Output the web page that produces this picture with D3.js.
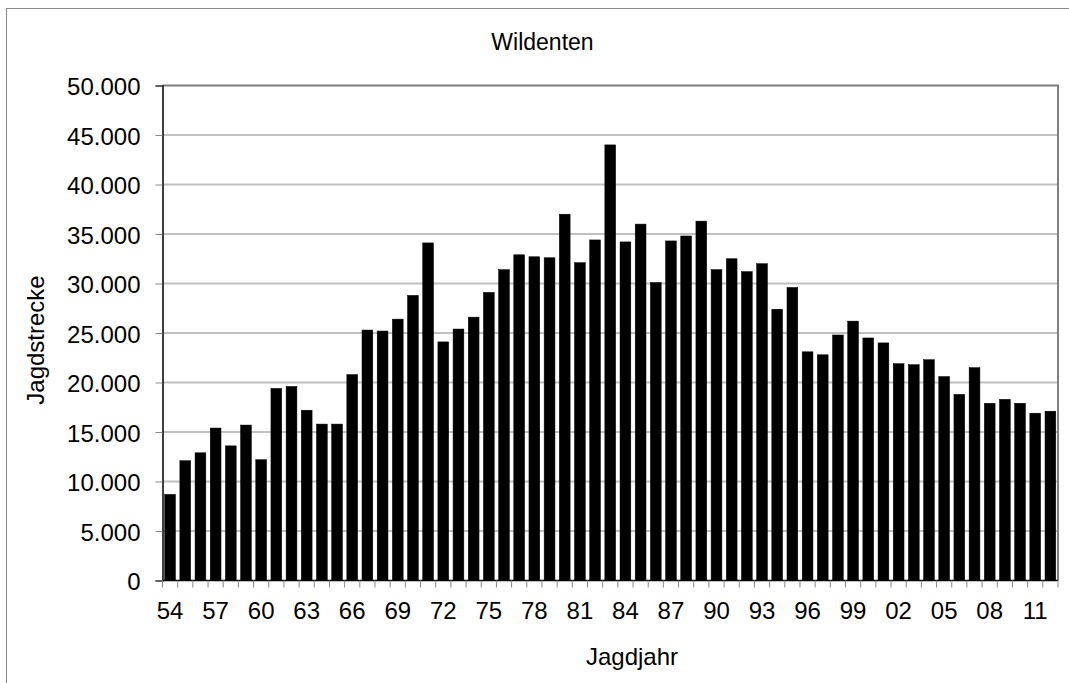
<!DOCTYPE html>
<html>
<head>
<meta charset="utf-8">
<script src="https://cdn.jsdelivr.net/npm/d3@7"></script>
<style>
  body { margin: 0; background: #fff; }
  svg { display: block; font-family: "Liberation Sans", Arial, sans-serif; }
</style>
</head>
<body>
<svg id="chart" width="1069" height="683"></svg>
<script>
// Jagdjahre 1954 - 2012
const years = ["54","55","56","57","58","59","60","61","62","63","64","65","66","67","68","69",
  "70","71","72","73","74","75","76","77","78","79","80","81","82","83","84","85","86","87","88","89",
  "90","91","92","93","94","95","96","97","98","99","00","01","02","03","04","05","06","07","08","09",
  "10","11","12"];

// Strecke Wildenten
const strecke = [8700, 12100, 12900, 15400, 13600, 15700, 12200, 19400, 19600, 17200, 15800, 15800,
  20800, 25300, 25200, 26400, 28800, 34100, 24100, 25400, 26600, 29100, 31400, 32900, 32700, 32600,
  37000, 32100, 34400, 44000, 34200, 36000, 30100, 34300, 34800, 36300, 31400, 32500, 31200, 32000,
  27400, 29600, 23100, 22800, 24800, 26200, 24500, 24000, 21900, 21800, 22300, 20600, 18800, 21500,
  17900, 18300, 17900, 16900, 17100];

// only every third year gets a label
const xLabels = ["54","57","60","63","66","69","72","75","78","81","84","87","90","93","96","99",
  "02","05","08","11"];

const yTicks = [0, 5000, 10000, 15000, 20000, 25000, 30000, 35000, 40000, 45000, 50000];

const svg = d3.select("#chart"),
    margin = {top: 85.5, right: 11, bottom: 102.5, left: 162.5},
    width = +svg.attr("width") - margin.left - margin.right,
    height = +svg.attr("height") - margin.top - margin.bottom;

const de = d3.formatLocale({decimal: ",", thousands: ".", grouping: [3], currency: ["", " €"]});
const fmt = de.format(",d");

// outer chart frame
svg.append("rect")
    .attr("x", 6.5).attr("y", 8.5)
    .attr("width", 1100).attr("height", 700)
    .attr("fill", "none")
    .attr("stroke", "#888")
    .attr("stroke-width", 1);

const g = svg.append("g").attr("transform", "translate(" + margin.left + "," + margin.top + ")");

const x = d3.scaleBand()
    .domain(years)
    .range([0, width])
    .paddingInner(0.29)
    .paddingOuter(0.145);

const y = d3.scaleLinear()
    .domain([0, 50000])
    .range([height, 0]);

// gridlines
g.append("g")
    .selectAll("line")
    .data(yTicks.filter(d => d > 0 && d < 50000))
    .join("line")
    .attr("x1", 0).attr("x2", width)
    .attr("y1", d => y(d)).attr("y2", d => y(d))
    .attr("stroke", "#c0c0c0")
    .attr("stroke-width", 2);

// plot border top + right
g.append("path")
    .attr("d", "M0," + y(50000) + "H" + width + "V" + height)
    .attr("fill", "none")
    .attr("stroke", "#808080")
    .attr("stroke-width", 2);

// bars
g.append("g")
    .selectAll("rect")
    .data(strecke)
    .join("rect")
    .attr("x", (d, i) => x(years[i]))
    .attr("y", d => y(d))
    .attr("width", x.bandwidth())
    .attr("height", d => height - y(d))
    .attr("fill", "#000")
    .attr("stroke", "#000")
    .attr("stroke-width", 0.5);

// y axis
const yAxis = g.append("g")
    .call(d3.axisLeft(y).tickValues(yTicks).tickSize(7).tickPadding(15).tickFormat(fmt));
yAxis.select(".domain").attr("stroke", "#000").attr("stroke-width", 1.5);
yAxis.selectAll(".tick line").attr("stroke", "#888");
yAxis.selectAll(".tick text")
    .attr("font-size", 24)
    .attr("font-family", "Liberation Sans, Arial, sans-serif")
    .attr("fill", "#000")
    .attr("dy", "0.38em");

// x axis: ticks between categories
const step = x.step();
const xAxis = g.append("g").attr("transform", "translate(0," + height + ")");
xAxis.append("line")
    .attr("x1", 0).attr("x2", width)
    .attr("stroke", "#000").attr("stroke-width", 1.5);
xAxis.selectAll(".tk")
    .data(years.concat(["end"]))
    .join("line")
    .attr("class", "tk")
    .attr("x1", (d, i) => i * step).attr("x2", (d, i) => i * step)
    .attr("y1", 0).attr("y2", 7)
    .attr("stroke", "#888");
xAxis.selectAll("text")
    .data(xLabels)
    .join("text")
    .attr("x", d => x(d) + x.bandwidth() / 2)
    .attr("y", 38)
    .attr("text-anchor", "middle")
    .attr("font-size", 24)
    .attr("fill", "#000")
    .text(d => d);

// titles
svg.append("text")
    .attr("x", 542.5).attr("y", 50)
    .attr("text-anchor", "middle")
    .attr("font-size", 23)
    .text("Wildenten");

svg.append("text")
    .attr("x", 632).attr("y", 665)
    .attr("text-anchor", "middle")
    .attr("font-size", 24)
    .text("Jagdjahr");

svg.append("text")
    .attr("transform", "translate(44,340) rotate(-90)")
    .attr("text-anchor", "middle")
    .attr("font-size", 24)
    .text("Jagdstrecke");
</script>
</body>
</html>
